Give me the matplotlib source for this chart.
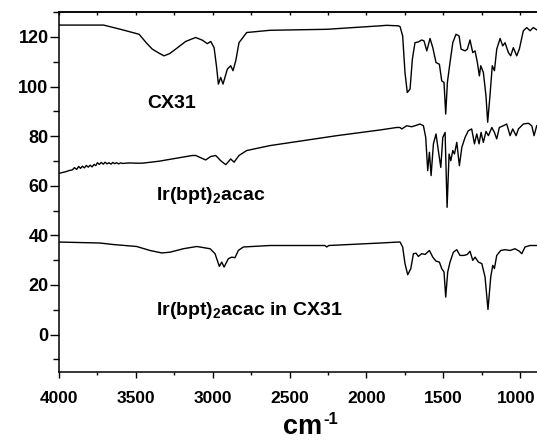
import numpy as np
import matplotlib
matplotlib.use('Agg')
import matplotlib.pyplot as plt
import matplotlib.ticker as ticker
import matplotlib.transforms as mtransforms

plt.rcParams['font.family'] = ['Liberation Sans', 'DejaVu Sans']
plt.rcParams['font.weight'] = 'bold'
plt.rcParams['mathtext.fontset'] = 'custom'
plt.rcParams['mathtext.rm'] = 'Liberation Sans:bold'
plt.rcParams['mathtext.bf'] = 'Liberation Sans:bold'
plt.rcParams['mathtext.it'] = 'Liberation Sans:bold'

# CX31 spectrum (wavenumber, transmittance)
cx31_wn = [4000, 3710, 3600, 3479, 3430, 3393, 3350, 3317, 3280, 3241, 3176, 3111, 3067,
           3035, 3013, 2991, 2975, 2963, 2948, 2933, 2905, 2883, 2868, 2850, 2829, 2779,
           2627, 2258, 1911, 1868, 1792, 1781, 1764, 1749, 1734, 1716, 1701, 1684, 1662,
           1640, 1625, 1607, 1586, 1568, 1547, 1525, 1510, 1495, 1484, 1473, 1456, 1438,
           1417, 1397, 1384, 1358, 1343, 1326, 1308, 1293, 1278, 1265, 1256, 1239, 1222,
           1211, 1196, 1181, 1167, 1152, 1130, 1113, 1098, 1076, 1061, 1044, 1022, 1005,
           979, 957, 935, 914, 892]
cx31_t = [124.8, 124.8, 123.1, 121.1, 117.5, 115.1, 113.5, 112.4, 113.3, 115.1, 118.2, 119.8, 118.7,
          117.3, 118.2, 115.7, 108.0, 101.0, 103.7, 101.0, 107.0, 108.4, 106.4, 110.4, 117.7, 121.8,
          122.7, 123.1, 124.5, 124.7, 124.5, 124.2, 120.4, 105.7, 97.6, 99.0, 111.0, 117.7, 118.0,
          118.8, 118.4, 114.4, 119.4, 115.7, 109.7, 109.0, 102.3, 101.7, 88.9, 101.7, 109.7, 117.7,
          121.1, 120.4, 115.1, 114.4, 115.1, 118.8, 113.7, 114.4, 109.7, 104.3, 108.4, 105.7, 96.3,
          85.6, 96.3, 108.4, 106.4, 115.1, 119.4, 116.4, 117.7, 113.7, 112.4, 115.7, 112.4, 115.1,
          122.5, 123.8, 122.5, 123.8, 122.9]

# Ir(bpt)2acac spectrum
ir_wn = [4000, 3960, 3930, 3913, 3900, 3885, 3872, 3860, 3848, 3835, 3822, 3810, 3797, 3785,
         3772, 3761, 3750, 3738, 3725, 3712, 3700, 3688, 3675, 3662, 3650, 3637, 3625, 3612,
         3600, 3585, 3566, 3540, 3500, 3458, 3349, 3133, 3110, 3046, 3013, 2980, 2948, 2915,
         2883, 2861, 2829, 2779, 2627, 2193, 1911, 1803, 1781, 1770, 1738, 1705, 1684, 1651,
         1629, 1614, 1601, 1590, 1579, 1564, 1547, 1532, 1516, 1503, 1488, 1475, 1462, 1451,
         1438, 1427, 1412, 1395, 1379, 1358, 1337, 1315, 1297, 1282, 1267, 1254, 1239, 1222,
         1206, 1184, 1167, 1152, 1135, 1109, 1087, 1065, 1048, 1026, 1011, 979, 946, 924,
         909, 892]
ir_t = [65.0, 65.6, 66.2, 66.4, 67.3, 66.6, 67.8, 67.0, 67.9, 67.2, 68.2, 67.5, 68.3, 67.6,
        68.6, 68.1, 69.3, 68.6, 69.4, 68.7, 69.5, 68.8, 69.3, 68.7, 69.4, 68.9, 69.3, 68.8,
        69.2, 69.0, 69.1, 69.2, 69.1, 69.1, 69.9, 72.2, 72.2, 70.4, 71.8, 72.2, 70.1, 68.5,
        70.8, 69.5, 72.2, 74.2, 76.2, 80.2, 82.5, 83.5, 83.5, 82.9, 84.2, 83.8, 84.2, 84.9,
        84.2, 79.5, 66.1, 73.5, 64.1, 76.9, 80.9, 74.2, 67.4, 79.5, 81.5, 51.3, 72.8, 70.1,
        74.2, 72.8, 77.5, 68.1, 75.5, 79.5, 82.2, 82.9, 76.9, 80.9, 76.9, 81.5, 77.5, 81.9,
        80.2, 83.5, 81.5, 78.9, 83.5, 84.2, 84.9, 80.2, 82.9, 80.2, 82.9, 84.9, 85.2, 84.2,
        80.2, 84.2]

# Ir(bpt)2acac in CX31 spectrum
mix_wn = [4000, 3733, 3647, 3495, 3408, 3332, 3278, 3191, 3104, 3017, 2985, 2957, 2941, 2926,
          2898, 2876, 2855, 2833, 2801, 2627, 2270, 2258, 2245, 1911, 1792, 1781, 1764, 1749,
          1731, 1711, 1694, 1677, 1662, 1640, 1618, 1590, 1568, 1547, 1525, 1510, 1495, 1484,
          1471, 1456, 1434, 1412, 1391, 1365, 1343, 1326, 1308, 1293, 1271, 1249, 1228, 1209,
          1191, 1178, 1167, 1152, 1126, 1098, 1065, 1033, 1005, 989, 968, 935, 892]
mix_t = [37.3, 36.9, 36.3, 35.5, 33.9, 32.9, 33.2, 34.6, 35.5, 34.6, 32.6, 27.5, 29.2, 27.2,
         30.6, 31.2, 31.0, 33.9, 35.3, 35.9, 35.9, 35.3, 35.9, 36.9, 37.3, 37.3, 35.3, 28.6,
         24.1, 26.6, 32.6, 32.8, 31.5, 32.6, 32.3, 33.9, 31.2, 29.6, 29.2, 26.6, 25.2, 15.1,
         25.2, 29.2, 33.2, 34.2, 31.9, 31.9, 32.3, 33.6, 29.9, 31.2, 29.2, 28.6, 23.2, 10.1,
         23.2, 27.9, 26.6, 31.9, 33.9, 34.2, 33.9, 34.6, 33.6, 32.6, 35.3, 35.9, 35.9]

fig = plt.figure(figsize=(5.37, 4.4), dpi=100)
ax = fig.add_axes([0.1099, 0.1552, 0.8901, 0.8171])

ax.plot(cx31_wn, cx31_t, color='black', linewidth=1.0)
ax.plot(ir_wn, ir_t, color='black', linewidth=1.0)
ax.plot(mix_wn, mix_t, color='black', linewidth=1.0)

ax.set_xlim(4000, 890)
ax.set_ylim(-15, 130)

ax.xaxis.set_major_locator(ticker.FixedLocator([4000, 3500, 3000, 2500, 2000, 1500, 1000]))
ax.xaxis.set_minor_locator(ticker.MultipleLocator(250))
ax.yaxis.set_major_locator(ticker.MultipleLocator(20))
ax.yaxis.set_minor_locator(ticker.MultipleLocator(10))

ax.tick_params(axis='x', which='major', direction='out', length=4, width=1, pad=10, labelsize=12.5)
ax.tick_params(axis='x', which='minor', direction='out', length=2.5, width=1)
ax.tick_params(axis='y', which='major', direction='out', length=6.5, width=1, pad=1, labelsize=13)
ax.tick_params(axis='y', which='minor', direction='out', length=4, width=1)
for lab in ax.get_xticklabels() + ax.get_yticklabels():
    lab.set_fontweight('bold')

# small inward ticks on the top frame
top = ax.secondary_xaxis('top')
top.xaxis.set_major_locator(ticker.MultipleLocator(250))
top.tick_params(axis='x', direction='in', length=2.5, width=1, labeltop=False)
top.spines['top'].set_linewidth(1.1)

ax.spines['right'].set_visible(False)
for s in ['left', 'bottom', 'top']:
    ax.spines[s].set_linewidth(1.1)

# nudge the last x label so it stays inside the picture
last = ax.xaxis.get_major_ticks()[-1]
last.label1.set_transform(last.label1.get_transform() +
                          mtransforms.ScaledTranslation(-3 / 72, 0, fig.dpi_scale_trans))

ax.text(3428, 91.3, 'CX31', fontsize=14, fontweight='bold', va='baseline')
ax.text(3371, 54.3, r'Ir(bpt)$_{\mathbf{2}}$acac', fontsize=14, fontweight='bold', va='baseline')
ax.text(3371, 7.8, r'Ir(bpt)$_{\mathbf{2}}$acac in CX31', fontsize=14, fontweight='bold', va='baseline')

ax.set_xlabel('cm', fontsize=19.5, fontweight='bold', va='baseline')
ax.xaxis.set_label_coords(0.509, -0.174)
ax.text(0.553, -0.146, '-1', transform=ax.transAxes, fontsize=12, fontweight='bold', va='baseline')

fig.savefig('out.png', dpi=100)
